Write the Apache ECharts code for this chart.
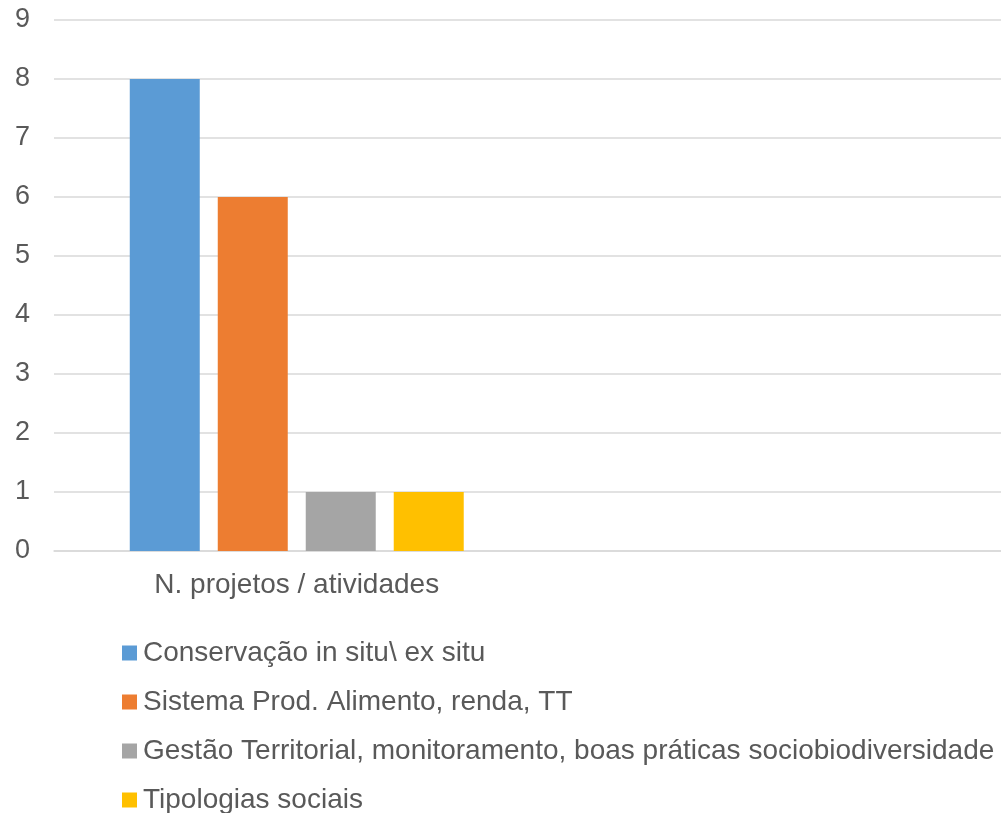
<!DOCTYPE html>
<html>
<head>
<meta charset="utf-8">
<script src="https://cdn.jsdelivr.net/npm/echarts@6/dist/echarts.min.js"></script>
<style>
html,body{margin:0;padding:0;background:#fff;}
#chart{width:1001px;height:813px;}
</style>
</head>
<body>
<div id="chart"></div>
<script>
const categories = ['N. projetos / atividades', ''];
const seriesNames = [
  'Conservação in situ\\ ex situ',
  'Sistema Prod. Alimento, renda, TT',
  'Gestão Territorial, monitoramento, boas práticas sociobiodiversidade',
  'Tipologias sociais'
];
const conservacao = [8, null];
const sistemaProd = [6, null];
const gestaoTerritorial = [1, null];
const tipologiasSociais = [1, null];
const colors = ['#5b9bd5', '#ed7d31', '#a5a5a5', '#ffc000'];
const yTicks = [0, 1, 2, 3, 4, 5, 6, 7, 8, 9];

const seriesValues = [conservacao, sistemaProd, gestaoTerritorial, tipologiasSociais];
const font = '"Liberation Sans", Arial, sans-serif';
const yMin = yTicks[0], yMax = yTicks[yTicks.length - 1];
const chart = echarts.init(document.getElementById('chart'), null, {renderer: 'canvas'});
chart.setOption({
  animation: false,
  color: colors,
  grid: [
    {left: 54, top: 20, right: 0, height: 531, containLabel: false},
    {left: 62, top: 20, right: 0, height: 531, containLabel: false}
  ],
  legend: {
    orient: 'vertical',
    left: 122,
    top: 637,
    height: 300,
    padding: 0,
    itemWidth: 15,
    itemHeight: 15,
    itemGap: 17,
    icon: 'rect',
    textStyle: {fontFamily: font, fontSize: 28, color: '#595959', lineHeight: 32, padding: [0, 0, 0, 1]},
    data: seriesNames
  },
  xAxis: [
    {
      type: 'category', gridIndex: 0, data: categories,
      axisTick: {show: false}, axisLabel: {show: false},
      axisLine: {lineStyle: {color: '#d9d9d9', width: 1.5}}
    },
    {
      type: 'category', gridIndex: 1, data: categories,
      axisTick: {show: false}, axisLine: {show: false},
      axisLabel: {fontFamily: font, fontSize: 28, color: '#595959', margin: 20}
    }
  ],
  yAxis: [
    {
      type: 'value', gridIndex: 0, min: yMin, max: yMax, interval: 1,
      axisLine: {show: false}, axisTick: {show: false},
      splitLine: {lineStyle: {color: '#d9d9d9', width: 1.5}},
      axisLabel: {fontFamily: font, fontSize: 27, color: '#595959', margin: 24}
    },
    {
      type: 'value', gridIndex: 1, min: yMin, max: yMax, interval: 1,
      show: false, splitLine: {show: false}
    }
  ],
  series: seriesNames.map((n, i) => ({
    name: n,
    type: 'bar',
    xAxisIndex: 1,
    yAxisIndex: 1,
    data: seriesValues[i],
    barWidth: 70,
    barGap: '25.7%',
    itemStyle: {color: colors[i]}
  }))
});
</script>
</body>
</html>
